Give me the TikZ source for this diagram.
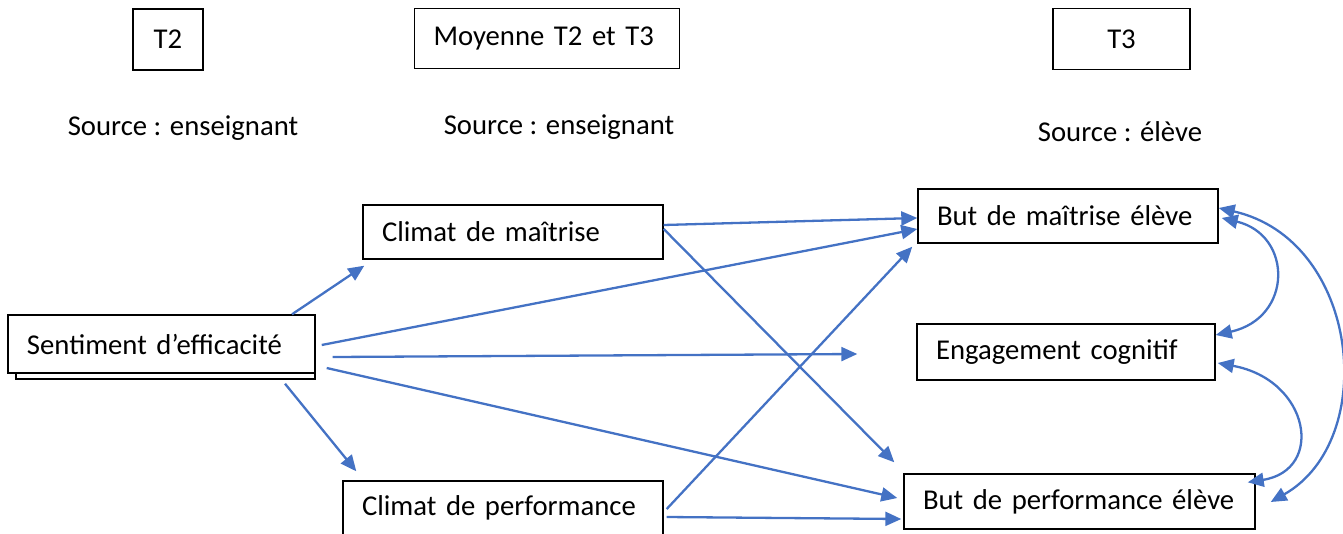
\documentclass[tikz,border=0pt]{standalone}
\usepackage{fontspec}
\setmainfont{Carlito}
\usetikzlibrary{arrows.meta}
\definecolor{arrowblue}{HTML}{4472C4}
\newcommand{\labelfont}{\fontsize{28.7}{34}\selectfont}
\begin{document}
\begin{tikzpicture}[x=1pt,y=-1pt,
  box/.style={draw=black, line width=1.4pt, fill=white, inner sep=0pt, inner xsep=19pt, align=left, font=\labelfont},
  cbox/.style={draw=black, line width=1.4pt, fill=white, inner sep=0pt, align=center, font=\labelfont},
  lbl/.style={inner sep=0pt, font=\labelfont},
  link/.style={draw=arrowblue, line width=2.3pt, -{Triangle[length=16pt,width=14pt]}},
  dlink/.style={draw=arrowblue, line width=2.3pt, {Triangle[length=16pt,width=14pt]}-{Triangle[length=16pt,width=14pt]}}
]
\useasboundingbox (0,0) rectangle (1343,533);

% header boxes
\node[cbox, minimum width=70pt, minimum height=61pt] (t2) at (168,39.5) {T2};
\node[box, text width=227pt, minimum height=60pt] (moy) at (547,38.5) {Moyenne T2 et T3};
\node[cbox, minimum width=137pt, minimum height=61pt] (t3) at (1121.5,39) {T3};

% source labels
\node[lbl] (s1) at (183,128) {Source : enseignant};
\node[lbl] (s2) at (559,127) {Source : enseignant};
\node[lbl] (s3) at (1120,132) {Source : élève};

% Sentiment box with its shadow
\draw[line width=1.4pt, fill=white] (16,355) rectangle (315,379);
\node[box, text width=269pt, minimum height=58pt] (sent) at (161.5,344) {Sentiment d’efficacité};

% teacher climates
\node[box, text width=262pt, minimum height=54pt] (cm) at (513,232) {Climat de maîtrise};
\node[box, text width=282pt, minimum height=54pt] (cp) at (503,508) {Climat de performance};

% student outcomes
\node[box, text width=262pt, minimum height=54pt] (bm) at (1068,216) {But de maîtrise élève};
\node[box, text width=260pt, minimum height=56pt] (ec) at (1066,352) {Engagement cognitif};
\node[box, text width=313pt, minimum height=55pt] (bp) at (1079.5,501.5) {But de performance élève};

\coordinate (e3) at ([xshift=-59pt,yshift=-2pt]ec.west);

% arrows from Sentiment
\draw[link] ([xshift=130.5pt]sent.north) -- ([xshift=2pt,yshift=-6pt]cm.south west);
\draw[link] ([xshift=6pt,yshift=-1pt]sent.east) -- ([yshift=-13pt]bm.west);
\draw[link] ([xshift=17pt,yshift=-13pt]sent.east) -- (e3);
\draw[link] ([xshift=11pt,yshift=-24pt]sent.east) -- ([xshift=-6pt,yshift=3.5pt]bp.west);
\draw[link] ([xshift=123.5pt,yshift=-10pt]sent.south) -- ([xshift=14pt,yshift=9pt]cp.north west);

% arrows from climates
\draw[link] ([yshift=7pt]cm.east) -- ([yshift=-2pt]bm.west);
\draw[link] ([yshift=3pt]cm.east) -- ([xshift=-9pt,yshift=11pt]bp.north west);
\draw[link] ([xshift=3pt,yshift=-1pt]cp.east) -- ([xshift=-5pt,yshift=-3pt]bm.south west);
\draw[link] ([xshift=3pt,yshift=-9pt]cp.east) -- ([xshift=-2pt,yshift=-17.5pt]bp.west);

% correlations
\draw[dlink] ([xshift=3pt,yshift=-2pt]bm.east) .. controls (1293,235) and (1293,318) .. ([yshift=17pt]ec.east);
\draw[dlink] ([xshift=2pt,yshift=-11pt]ec.east) .. controls (1310,380) and (1325,470) .. ([xshift=-8pt,yshift=-9pt]bp.north east);
\draw[dlink] ([yshift=8pt]bm.east) .. controls (1360,240) and (1380,440) .. ([xshift=15pt,yshift=-0.5pt]bp.east);
\end{tikzpicture}
\end{document}
